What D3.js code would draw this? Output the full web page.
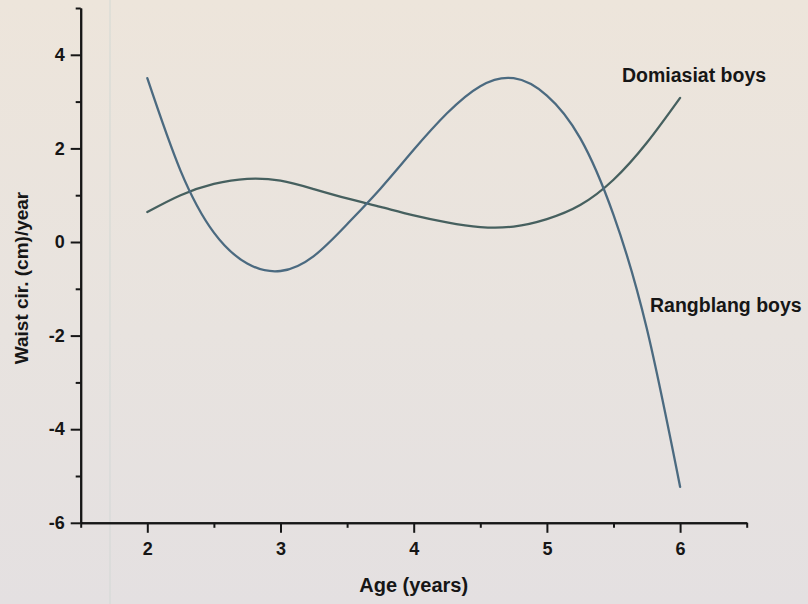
<!DOCTYPE html>
<html>
<head>
<meta charset="utf-8">
<script src="https://cdn.jsdelivr.net/npm/d3@7"></script>
<style>
  html, body { margin: 0; padding: 0; background: #e8e3de; }
  svg { display: block; }
  text { font-family: "Liberation Sans", Arial, sans-serif; fill: #161616; }
</style>
</head>
<body>
<svg id="chart" width="808" height="604"></svg>
<script>
// Age (years) at which the annual waist-circumference gain is sampled
const ages = [2, 2.25, 2.5, 2.75, 3, 3.25, 3.5, 3.75, 4, 4.25, 4.5, 4.75, 5, 5.25, 5.5, 5.75, 6];
// Waist circumference velocity (cm/year)
const rangblang = [3.50, 1.52, 0.20, -0.46, -0.62, -0.30, 0.38, 1.14, 1.97, 2.75, 3.33, 3.50, 3.13, 2.22, 0.58, -1.85, -5.23];
const domiasiat = [0.64, 1.00, 1.24, 1.35, 1.31, 1.13, 0.93, 0.75, 0.57, 0.42, 0.32, 0.33, 0.49, 0.79, 1.33, 2.12, 3.08];

const seriesNames = ["Rangblang boys", "Domiasiat boys"];
const xTicks = [2, 3, 4, 5, 6];
const yTicks = [-6, -4, -2, 0, 2, 4];
const xMinorTicks = [1.5, 2.5, 3.5, 4.5, 5.5, 6.5];
const yMinorTicks = [-5, -3, -1, 1, 3, 5];

const svg = d3.select("#chart");

// paper background
const defs = svg.append("defs");
const grad = defs.append("linearGradient").attr("id", "paper").attr("x1", 0).attr("y1", 0).attr("x2", 0).attr("y2", 1);
grad.append("stop").attr("offset", "0%").attr("stop-color", "#ede5db");
grad.append("stop").attr("offset", "55%").attr("stop-color", "#e8e3df");
grad.append("stop").attr("offset", "100%").attr("stop-color", "#e4e0e1");
svg.append("rect").attr("width", 808).attr("height", 604).attr("fill", "url(#paper)");
svg.append("line").attr("x1", 110).attr("x2", 110).attr("y1", 0).attr("y2", 604)
  .attr("stroke", "#d3d9d6").attr("stroke-width", 1.2).attr("opacity", 0.8);

const x = d3.scaleLinear().domain([1.5, 6.5]).range([80.7, 746.7]);
const y = d3.scaleLinear().domain([-6, 5]).range([522.8, 8.0]);

const axisColor = "#161616";
const fmt = d => String(d);

// x axis: major and minor ticks
const gx = svg.append("g").attr("transform", `translate(0,${y(-6)})`);
gx.call(d3.axisBottom(x).tickValues(xTicks).tickFormat(fmt).tickSize(10).tickSizeOuter(0).tickPadding(9));
gx.append("g").call(d3.axisBottom(x).tickValues(xMinorTicks).tickFormat("").tickSize(5).tickSizeOuter(0));

// y axis: major and minor ticks
const gy = svg.append("g").attr("transform", `translate(${x(1.5)},0)`);
gy.call(d3.axisLeft(y).tickValues(yTicks).tickFormat(fmt).tickSize(10).tickSizeOuter(0).tickPadding(6));
gy.append("g").call(d3.axisLeft(y).tickValues(yMinorTicks).tickFormat("").tickSize(5).tickSizeOuter(0));

svg.selectAll(".domain").attr("stroke", axisColor).attr("stroke-width", 2);
svg.selectAll(".tick line").attr("stroke", axisColor).attr("stroke-width", 2);
svg.selectAll(".tick text")
  .attr("font-family", "Liberation Sans, Arial, sans-serif")
  .attr("font-size", 18).attr("font-weight", "bold").attr("fill", "#161616");

// axis titles
svg.append("text").attr("x", x(4)).attr("y", 592)
  .attr("text-anchor", "middle").attr("font-size", 20).attr("font-weight", "bold")
  .text("Age (years)");
svg.append("text")
  .attr("transform", `translate(28,${278}) rotate(-90)`)
  .attr("text-anchor", "middle").attr("font-size", 19).attr("font-weight", "bold")
  .text("Waist cir. (cm)/year");

// curves
const line = d3.line()
  .x((d, i) => x(ages[i]))
  .y(d => y(d))
  .curve(d3.curveNatural);

svg.append("path").datum(domiasiat)
  .attr("d", line).attr("fill", "none")
  .attr("stroke", "#46605f").attr("stroke-width", 2.3).attr("stroke-linecap", "round");
svg.append("path").datum(rangblang)
  .attr("d", line).attr("fill", "none")
  .attr("stroke", "#4b6a80").attr("stroke-width", 2.3).attr("stroke-linecap", "round");

// series labels
svg.append("text").attr("x", 622).attr("y", 82)
  .attr("font-size", 19.5).attr("font-weight", "bold").text(seriesNames[1]);
svg.append("text").attr("x", 650).attr("y", 312)
  .attr("font-size", 19.5).attr("font-weight", "bold").text(seriesNames[0]);
</script>
</body>
</html>
